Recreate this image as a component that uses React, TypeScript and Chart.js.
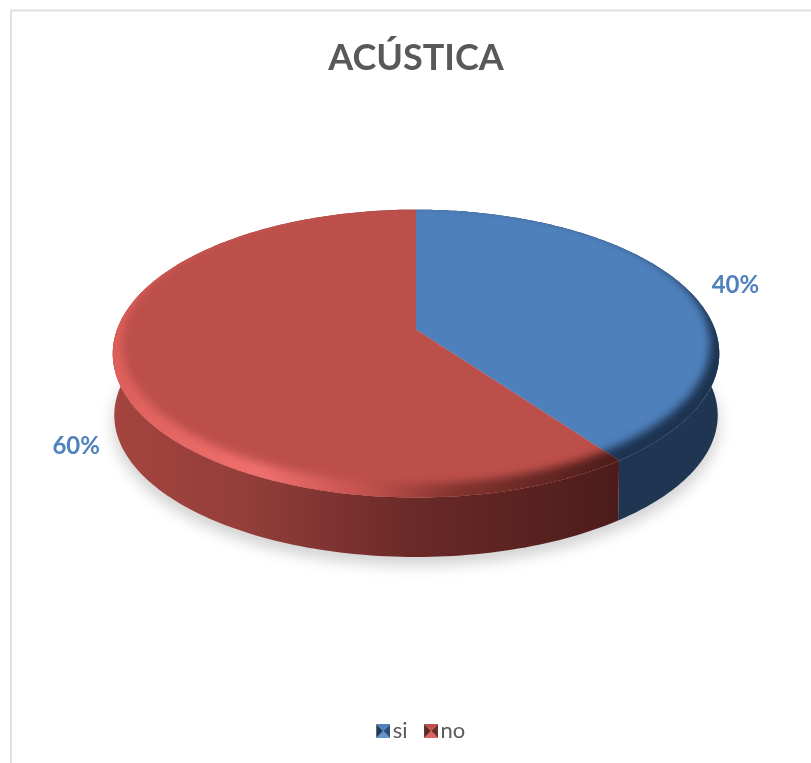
import React, { useEffect, useRef } from "react";
import { Chart, registerables } from "chart.js";

Chart.register(...registerables);

const chartTitle = "ACÚSTICA";
const categories = ["si", "no"];
const shares = [40, 60];

const sliceColors = ["#4e80bc", "#bd4f4b"];
const swatchShades = [
  { top: "#4f81bd", left: "#1f3a5c", right: "#2b4c75", bottom: "#6394d0" },
  { top: "#c0504d", left: "#632624", right: "#6e2c2a", bottom: "#dc625e" },
];
const wallStops = [
  [[0, "#1f3552"], [1, "#1f3552"]],
  [[0, "#a5443f"], [0.27, "#943e3a"], [0.6, "#6a2a28"], [1, "#4d1c1a"]],
] as [number, string][][];
const rimStops = [
  [[0, "#1d3350"], [1, "#1d3350"]],
  [[0, "#dc5f5a"], [0.3, "#f0706e"], [0.5, "#c4524f"], [0.68, "#84342f"], [1, "#4d1c1a"]],
] as [number, string][][];

// Tilted-disc projection, expressed relative to the pie's outer radius.
const DISC_RADIUS = 299;
const TILT_Y = 0.468;
const PERSPECTIVE = -1 / 6;
const DISC_LIFT = -72;
const BASE_SCALE_X = 0.995;
const BASE_SCALE_Y = 0.985;
const WALL_DEPTH = 62;
const RIM_INSET = 0.97;
const RIM_RISE = 9;
const labelNudges = [[49, -3], [-40, 71]];

type Pt = [number, number];

function project(cx: number, cy: number, r: number, angle: number, sx = 1, sy = 1, dy = 0): Pt {
  const u = Math.cos(angle);
  const v = Math.sin(angle);
  const d = 1 + PERSPECTIVE * v;
  return [cx + (r * sx * u) / d, cy + dy + (r * TILT_Y * sy * v) / d];
}

function tracePerimeter(
  ctx: CanvasRenderingContext2D,
  from: number,
  to: number,
  at: (a: number) => Pt,
  join = false
) {
  const steps = 180;
  for (let i = 0; i <= steps; i++) {
    const [x, y] = at(from + ((to - from) * i) / steps);
    if (i === 0 && !join) ctx.moveTo(x, y);
    else ctx.lineTo(x, y);
  }
}

function bandGradient(
  ctx: CanvasRenderingContext2D,
  cx: number,
  r: number,
  stops: [number, string][]
) {
  const g = ctx.createLinearGradient(cx - r * 1.03, 0, cx + r * 0.67, 0);
  stops.forEach(([o, c]) => g.addColorStop(o, c));
  return g;
}

const tiltedPie = {
  id: "tiltedPie",
  beforeDraw(chart: Chart) {
    const { ctx, width, height } = chart;
    ctx.save();
    ctx.fillStyle = "#ffffff";
    ctx.fillRect(0, 0, width, height);
    ctx.strokeStyle = "#e0e0e0";
    ctx.lineWidth = 2;
    ctx.strokeRect(11, 10.5, width + 40, height + 40);
    ctx.restore();
  },
  // The library's arcs supply centre, radius and angles; the disc is projected from them.
  beforeDatasetDraw(chart: Chart) {
    const { ctx } = chart;
    const arcs = chart.getDatasetMeta(0).data as any[];
    const cx = arcs[0].x;
    const cy = arcs[0].y + DISC_LIFT;
    const r = arcs[0].outerRadius;
    const top = (a: number) => project(cx, cy, r, a);
    const base = (a: number) => project(cx, cy, r, a, BASE_SCALE_X, BASE_SCALE_Y, WALL_DEPTH);

    // Soft ground shadow under the disc.
    ctx.save();
    ctx.filter = "blur(7px)";
    ctx.fillStyle = "rgba(0,0,0,0.17)";
    ctx.beginPath();
    tracePerimeter(ctx, 0, Math.PI * 2, (a) =>
      project(cx, cy, r, a, 1, BASE_SCALE_Y, WALL_DEPTH + 9)
    );
    ctx.closePath();
    ctx.fill();
    ctx.restore();

    // Side wall of each slice.
    arcs.forEach((arc, i) => {
      ctx.save();
      ctx.fillStyle = bandGradient(ctx, cx, r, wallStops[i]);
      ctx.beginPath();
      tracePerimeter(ctx, arc.startAngle, arc.endAngle, top);
      tracePerimeter(ctx, arc.endAngle, arc.startAngle, base, true);
      ctx.closePath();
      ctx.fill();
      ctx.restore();
    });

    // Top face with its soft bevelled rim.
    arcs.forEach((arc, i) => {
      const face = new Path2D();
      face.moveTo(cx, cy);
      const steps = 180;
      for (let s = 0; s <= steps; s++) {
        const [x, y] = top(arc.startAngle + ((arc.endAngle - arc.startAngle) * s) / steps);
        face.lineTo(x, y);
      }
      face.closePath();
      ctx.save();
      ctx.fillStyle = arc.options.backgroundColor;
      ctx.fill(face);
      ctx.clip(face);
      ctx.filter = "blur(4px)";
      ctx.fillStyle = bandGradient(ctx, cx, r, rimStops[i]);
      ctx.beginPath();
      tracePerimeter(ctx, 0, Math.PI * 2, (a) => project(cx, cy, r, a, 1.05, 1.08));
      ctx.closePath();
      tracePerimeter(ctx, 0, Math.PI * 2, (a) =>
        project(cx, cy, r, a, RIM_INSET, RIM_INSET, -RIM_RISE)
      );
      ctx.closePath();
      ctx.fill("evenodd");
      ctx.restore();
    });

    // Percentage labels beside the slices.
    const total = shares.reduce((a, b) => a + b, 0);
    ctx.save();
    ctx.font = "bold 24px Lato";
    ctx.fillStyle = "#4f81bd";
    ctx.textAlign = "center";
    ctx.textBaseline = "middle";
    arcs.forEach((arc, i) => {
      const [x, y] = top((arc.startAngle + arc.endAngle) / 2);
      const text = `${Math.round((shares[i] / total) * 100)}%`;
      ctx.fillText(text, x + labelNudges[i][0], y + labelNudges[i][1]);
    });
    ctx.restore();
    return false;
  },
};

// Bevelled legend key, set to the right of the legend's point box so it sits close to its text.
function makeSwatch(shade: (typeof swatchShades)[number]) {
  const size = 14;
  const shift = 9;
  const c = document.createElement("canvas");
  c.width = size + shift * 2;
  c.height = size;
  const g = c.getContext("2d")!;
  g.translate(shift * 2, 0);
  const mid = size / 2;
  const tri = (color: string, a: Pt, b: Pt) => {
    g.fillStyle = color;
    g.beginPath();
    g.moveTo(a[0], a[1]);
    g.lineTo(b[0], b[1]);
    g.lineTo(mid, mid);
    g.closePath();
    g.fill();
  };
  tri(shade.top, [0, 0], [size, 0]);
  tri(shade.bottom, [0, size], [size, size]);
  tri(shade.left, [0, 0], [0, size]);
  tri(shade.right, [size, 0], [size, size]);
  return c;
}

export default function App() {
  const canvasRef = useRef<HTMLCanvasElement>(null);

  useEffect(() => {
    const swatches = swatchShades.map(makeSwatch);
    const chart = new Chart(canvasRef.current!, {
      type: "pie",
      data: {
        labels: categories,
        datasets: [{ data: shares, backgroundColor: sliceColors, borderWidth: 0, radius: DISC_RADIUS }],
      },
      options: {
        responsive: false,
        animation: false,
        layout: { padding: { left: 21, right: 0, top: 0, bottom: 11 } },
        plugins: {
          tooltip: { enabled: false },
          title: {
            display: true,
            text: chartTitle,
            color: "#595959",
            font: { family: "Lato", size: 36, weight: "bold" },
            padding: { top: 37, bottom: 10 },
          },
          legend: {
            position: "bottom",
            labels: {
              color: "#595959",
              font: { family: "Lato", size: 22 },
              usePointStyle: true,
              boxWidth: 15,
              boxHeight: 15,
              padding: 7,
              generateLabels(c: Chart) {
                const items = (Chart as any).overrides.pie.plugins.legend.labels.generateLabels(c);
                return items.map((item: any, i: number) => ({ ...item, pointStyle: swatches[i] }));
              },
            },
          },
        },
      },
      plugins: [tiltedPie],
    } as any);
    return () => chart.destroy();
  }, []);

  return (
    <div style={{ position: "absolute", left: 0, top: 0, width: 811, height: 763, overflow: "hidden" }}>
      <canvas ref={canvasRef} width={811} height={763} style={{ display: "block" }} />
    </div>
  );
}
